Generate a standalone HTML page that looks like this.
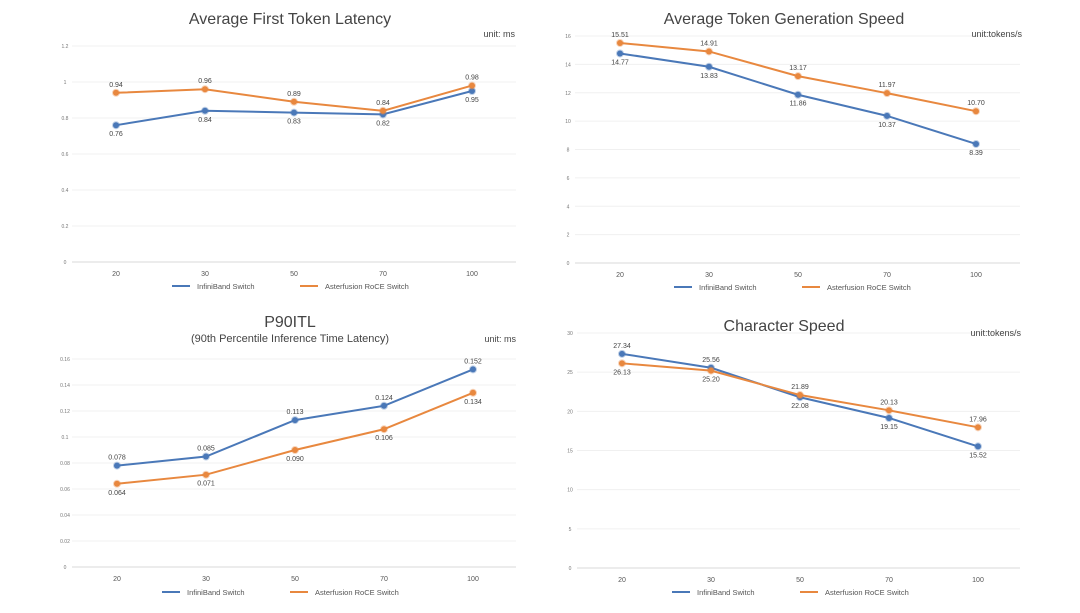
<!DOCTYPE html>
<html><head><meta charset="utf-8"><style>
body{margin:0;background:#fff;width:1080px;height:608px;overflow:hidden}
svg{font-family:"Liberation Sans",sans-serif}
</style></head><body>
<svg id="c" width="1080" height="608"></svg>
<script>
const categories=["20","30","50","70","100"];
const latIB=[0.76,0.84,0.83,0.82,0.95];
const latRoCE=[0.94,0.96,0.89,0.84,0.98];
const latTicks=["0","0.2","0.4","0.6","0.8","1","1.2"];
const genIB=[14.77,13.83,11.86,10.37,8.39];
const genRoCE=[15.51,14.91,13.17,11.97,10.70];
const genTicks=["0","2","4","6","8","10","12","14","16"];
const p90IB=[0.078,0.085,0.113,0.124,0.152];
const p90RoCE=[0.064,0.071,0.090,0.106,0.134];
const p90Ticks=["0","0.02","0.04","0.06","0.08","0.1","0.12","0.14","0.16"];
const chIB=[27.34,25.56,21.80,19.15,15.52];
const chRoCE=[26.13,25.20,22.08,20.13,17.96];
const chTicks=["0","5","10","15","20","25","30"];
const ibLabels=[["0.76","0.84","0.83","0.82","0.95"],["14.77","13.83","11.86","10.37","8.39"],["0.078","0.085","0.113","0.124","0.152"],["27.34","25.56","22.08","19.15","15.52"]];
const roceLabels=[["0.94","0.96","0.89","0.84","0.98"],["15.51","14.91","13.17","11.97","10.70"],["0.064","0.071","0.090","0.106","0.134"],["26.13","25.20","21.89","20.13","17.96"]];
const NS="http://www.w3.org/2000/svg";
const svg=document.getElementById('c');
function mk(tag,attrs,parent,text){const e=document.createElementNS(NS,tag);for(const k in attrs)e.setAttribute(k,attrs[k]);if(text!==undefined)e.textContent=text;parent.appendChild(e);return e;}
const BLUE="#4a78b8",ORANGE="#e8883f";
function chart(cfg){
 const g=mk('g',{},svg);
 
 
 const max=parseFloat(cfg.ticks[cfg.ticks.length-1]);
 const y=v=>cfg.y0-(v/max)*(cfg.y0-cfg.yTop);
 const x=i=>cfg.x0+i*89;
 cfg.ticks.forEach(t=>{const v=parseFloat(t);
  const l=mk('line',{x1:cfg.gx1,x2:cfg.gx2,y1:y(v),y2:y(v),stroke:v==0?'#d8d8d8':'#f0f0f0','stroke-width':1},g);
  
  const tx=mk('text',{x:cfg.tx,y:y(v)+2,'font-size':5,fill:'#777','text-anchor':'middle'},g,t);
  });
 categories.forEach((c,i)=>{const t=mk('text',{x:x(i),y:cfg.y0+14,'font-size':7,fill:'#555','text-anchor':'middle'},g,c);
  });
 [[cfg.ib,BLUE,cfg.ibL,cfg.ibUp],[cfg.ro,ORANGE,cfg.roL,cfg.roUp]].forEach(([d,col,lab,up],si)=>{
  const p=mk('polyline',{points:d.map((v,i)=>x(i)+','+y(v)).join(' '),fill:'none',stroke:col,'stroke-width':2},g);
  
  d.forEach((v,i)=>{const c=mk('circle',{cx:x(i),cy:y(v),r:3,fill:col,stroke:col,'stroke-opacity':0.35,'stroke-width':2},g);
   
   const u=up[i];
   const t=mk('text',{x:x(i),y:y(v)+(u?-6:11),'font-size':7,fill:'#444','text-anchor':'middle'},g,lab[i]);
   });
 });
 const tt=mk('text',{x:cfg.titleX,y:cfg.titleY,'font-size':16,fill:'#444','text-anchor':'middle'},g,cfg.title);
 
 if(cfg.sub){const s=mk('text',{x:cfg.titleX,y:cfg.titleY+15,'font-size':11,fill:'#444','text-anchor':'middle'},g,cfg.sub);
  }
 const un=mk('text',{x:cfg.unitX,y:cfg.unitY,'font-size':9,fill:'#444','text-anchor':'end'},g,cfg.unit);
 
 [[cfg.lx,BLUE,'InfiniBand Switch','legend-infiniband'],[cfg.lx+128,ORANGE,'Asterfusion RoCE Switch','legend-roce']].forEach(([lx,col,txt,n])=>{
  const lg=mk('g',{},g);
  mk('line',{x1:lx,x2:lx+18,y1:cfg.ly,y2:cfg.ly,stroke:col,'stroke-width':2},lg);
  mk('text',{x:lx+25,y:cfg.ly+3,'font-size':7.5,fill:'#555'},lg,txt);});
}
chart({name:'first-token-latency-chart',ticks:latTicks,y0:262,yTop:46,x0:116,gx1:72,gx2:516,tx:65,ib:latIB,ro:latRoCE,ibL:ibLabels[0],roL:roceLabels[0],ibUp:[0,0,0,0,0],roUp:[1,1,1,1,1],title:'Average First Token Latency',titleX:290,titleY:24,unit:'unit: ms',unitX:515,unitY:37,lx:172,ly:286});
chart({name:'token-generation-speed-chart',ticks:genTicks,y0:263,yTop:36,x0:620,gx1:575,gx2:1020,tx:568,ib:genIB,ro:genRoCE,ibL:ibLabels[1],roL:roceLabels[1],ibUp:[0,0,0,0,0],roUp:[1,1,1,1,1],title:'Average Token Generation Speed',titleX:784,titleY:24,unit:'unit:tokens/s',unitX:1022,unitY:37,lx:674,ly:287});
chart({name:'p90itl-chart',ticks:p90Ticks,y0:567,yTop:359,x0:117,gx1:72,gx2:516,tx:65,ib:p90IB,ro:p90RoCE,ibL:ibLabels[2],roL:roceLabels[2],ibUp:[1,1,1,1,1],roUp:[0,0,0,0,0],title:'P90ITL',titleX:290,titleY:327,sub:'(90th Percentile Inference Time Latency)',unit:'unit: ms',unitX:516,unitY:342,lx:162,ly:592});
chart({name:'character-speed-chart',ticks:chTicks,y0:568,yTop:333,x0:622,gx1:577,gx2:1020,tx:570,ib:chIB,ro:chRoCE,ibL:ibLabels[3],roL:roceLabels[3],ibUp:[1,1,0,0,0],roUp:[0,0,1,1,1],title:'Character Speed',titleX:784,titleY:331,unit:'unit:tokens/s',unitX:1021,unitY:336,lx:672,ly:592});
</script>
</body></html>
